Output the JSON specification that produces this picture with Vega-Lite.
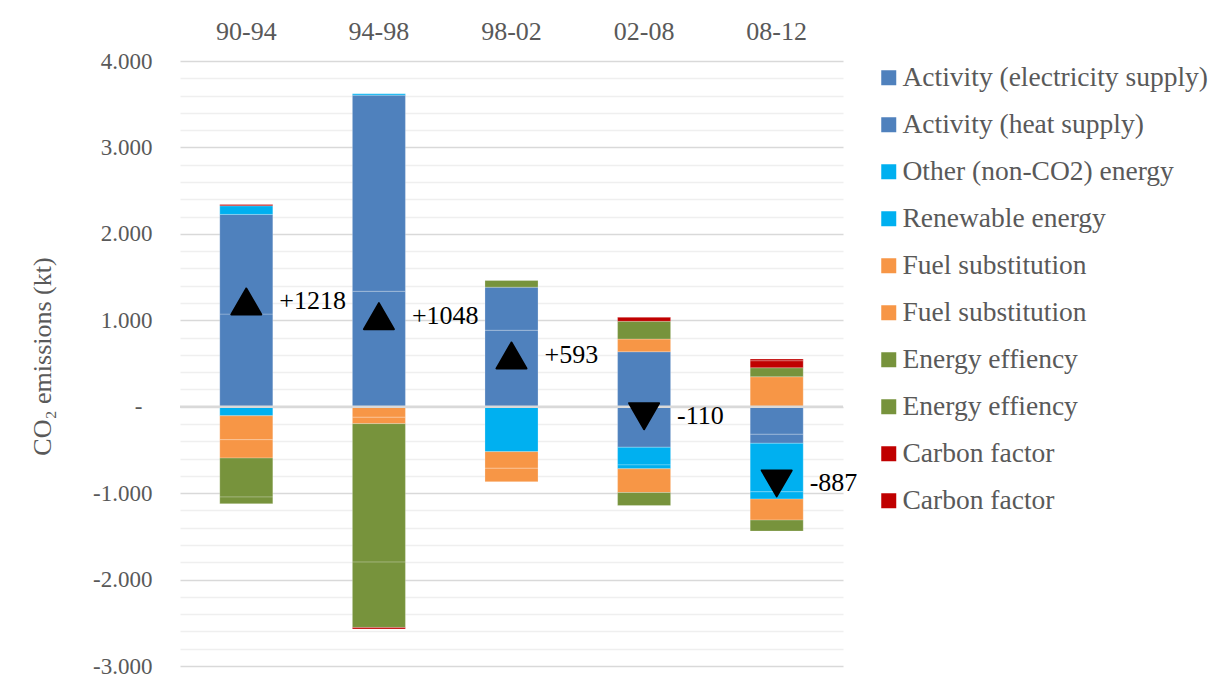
{
  "$schema": "https://vega.github.io/schema/vega-lite/v6.json",
  "width": 663,
  "height": 605,
  "autosize": {"type": "none"},
  "padding": {"left": 180, "top": 61, "right": 374, "bottom": 17},
  "background": "#ffffff",
  "config": {"view": {"stroke": null}, "font": "Liberation Serif"},
  "datasets": {
    "parts": [
      {"period": "90-94", "series": "elec", "k": 0, "value": 1072},
      {"period": "90-94", "series": "heat", "k": 1, "value": 1153},
      {"period": "90-94", "series": "other", "k": 2, "value": -105},
      {"period": "90-94", "series": "renew", "k": 3, "value": 100},
      {"period": "90-94", "series": "fuel", "k": 4, "value": -277},
      {"period": "90-94", "series": "fuel_d", "k": 5, "value": -212},
      {"period": "90-94", "series": "eff", "k": 6, "value": -451},
      {"period": "90-94", "series": "eff_d", "k": 7, "value": -77},
      {"period": "90-94", "series": "carbon", "k": 8, "value": 15},

      {"period": "94-98", "series": "elec", "k": 0, "value": 1336},
      {"period": "94-98", "series": "heat", "k": 1, "value": 2269},
      {"period": "94-98", "series": "renew", "k": 3, "value": 15},
      {"period": "94-98", "series": "fuel", "k": 4, "value": -122},
      {"period": "94-98", "series": "fuel_d", "k": 5, "value": -74},
      {"period": "94-98", "series": "eff", "k": 6, "value": -1602},
      {"period": "94-98", "series": "eff_d", "k": 7, "value": -756},
      {"period": "94-98", "series": "carbon", "k": 8, "value": -18},

      {"period": "98-02", "series": "elec", "k": 0, "value": 885},
      {"period": "98-02", "series": "heat", "k": 1, "value": 498},
      {"period": "98-02", "series": "other", "k": 2, "value": -520},
      {"period": "98-02", "series": "fuel", "k": 4, "value": -192},
      {"period": "98-02", "series": "fuel_d", "k": 5, "value": -155},
      {"period": "98-02", "series": "eff_d", "k": 7, "value": 77},

      {"period": "02-08", "series": "elec", "k": 0, "value": 636},
      {"period": "02-08", "series": "heat", "k": 1, "value": -469},
      {"period": "02-08", "series": "other", "k": 2, "value": -204},
      {"period": "02-08", "series": "renew", "k": 3, "value": -46},
      {"period": "02-08", "series": "fuel", "k": 4, "value": -274},
      {"period": "02-08", "series": "fuel_d", "k": 5, "value": 147},
      {"period": "02-08", "series": "eff", "k": 6, "value": -151},
      {"period": "02-08", "series": "eff_d", "k": 7, "value": 205},
      {"period": "02-08", "series": "carbon", "k": 8, "value": 46},

      {"period": "08-12", "series": "elec", "k": 0, "value": -319},
      {"period": "08-12", "series": "heat", "k": 1, "value": -104},
      {"period": "08-12", "series": "other", "k": 2, "value": -562},
      {"period": "08-12", "series": "renew", "k": 3, "value": -84},
      {"period": "08-12", "series": "fuel", "k": 4, "value": 347},
      {"period": "08-12", "series": "fuel_d", "k": 5, "value": -243},
      {"period": "08-12", "series": "eff", "k": 6, "value": 104},
      {"period": "08-12", "series": "eff_d", "k": 7, "value": -127},
      {"period": "08-12", "series": "carbon", "k": 8, "value": 81},
      {"period": "08-12", "series": "carbon_d", "k": 9, "value": 20}
    ],
    "net": [
      {"period": "90-94", "net": 1218, "label": "+1218", "dir": "up"},
      {"period": "94-98", "net": 1048, "label": "+1048", "dir": "up"},
      {"period": "98-02", "net": 593, "label": "+593", "dir": "up"},
      {"period": "02-08", "net": -110, "label": "-110", "dir": "down"},
      {"period": "08-12", "net": -887, "label": "-887", "dir": "down"}
    ]
  },
  "layer": [
    {
      "data": {"name": "parts"},
      "mark": {"type": "bar", "stroke": "#ffffff", "strokeOpacity": 0.3, "strokeWidth": 0.8},
      "encoding": {
        "x": {
          "field": "period",
          "type": "nominal",
          "sort": ["90-94", "94-98", "98-02", "02-08", "08-12"],
          "scale": {"paddingInner": 0.6, "paddingOuter": 0.3},
          "axis": {
            "orient": "top",
            "title": null,
            "domain": false,
            "ticks": false,
            "tickSize": 0,
            "labelPadding": 21.7,
            "labelBaseline": "alphabetic",
            "labelAngle": 0,
            "labelFontSize": 26,
            "labelColor": "#595959",
            "labelFont": "Liberation Serif"
          }
        },
        "y": {
          "field": "value",
          "type": "quantitative",
          "stack": "zero",
          "scale": {"domain": [-3000, 4000], "nice": false},
          "axis": {
            "title": "CO₂ emissions (kt)",
            "values": [-3000, -2800, -2600, -2400, -2200, -2000, -1800, -1600, -1400, -1200, -1000, -800, -600, -400, -200, 0, 200, 400, 600, 800, 1000, 1200, 1400, 1600, 1800, 2000, 2200, 2400, 2600, 2800, 3000, 3200, 3400, 3600, 3800, 4000],
            "tickCount": 100,
            "grid": true,
            "gridColor": {"condition": {"test": "datum.value % 1000 === 0", "value": "#D9D9D9"}, "value": "#EFEFEF"},
            "gridWidth": 1.5,
            "domain": false,
            "ticks": false,
            "tickSize": 0,
            "labelPadding": {"condition": {"test": "datum.value === 0", "value": 38}, "value": 28},
            "labelOverlap": false,
            "labelFontSize": 23,
            "labelColor": "#595959",
            "labelFont": "Liberation Serif",
            "labelExpr": "datum.value % 1000 !== 0 ? '' : datum.value === 0 ? '-' : replace(replace(format(datum.value, ',.0f'), ',', '.'), '\u2212', '-')",
            "titleFontSize": 26,
            "titleFontWeight": "normal",
            "titleColor": "#595959",
            "titleFont": "Liberation Serif",
            "titleAngle": 270,
            "titleAlign": "center",
            "titleBaseline": "middle",
            "titleX": -138,
            "titleY": 295
          }
        },
        "color": {
          "field": "series",
          "type": "nominal",
          "scale": {
            "domain": ["elec", "heat", "other", "renew", "fuel", "fuel_d", "eff", "eff_d", "carbon", "carbon_d"],
            "range": ["#4F81BD", "#4F81BD", "#00B0F0", "#00B0F0", "#F79646", "#F79646", "#77933C", "#77933C", "#C00000", "#C00000"]
          },
          "legend": {
            "orient": "none",
            "legendX": 695,
            "legendY": 3,
            "title": null,
            "padding": 0,
            "symbolType": "square",
            "symbolSize": 225,
            "symbolStrokeWidth": 0,
            "labelFontSize": 27.5,
            "labelColor": "#595959",
            "labelFont": "Liberation Serif",
            "labelOffset": 0,
            "labelLimit": 400,
            "rowPadding": 18,
            "labelExpr": "{'elec': 'Activity (electricity supply)', 'heat': 'Activity (heat supply)', 'other': 'Other (non-CO2) energy', 'renew': 'Renewable energy', 'fuel': 'Fuel substitution', 'fuel_d': 'Fuel substitution', 'eff': 'Energy effiency', 'eff_d': 'Energy effiency', 'carbon': 'Carbon factor', 'carbon_d': 'Carbon factor'}[datum.label]"
          }
        },
        "order": {"field": "k", "type": "quantitative"}
      }
    },
    {
      "data": {"values": [{}]},
      "mark": {"type": "rule", "color": "#D9D9D9", "strokeWidth": 2.5},
      "encoding": {"y": {"datum": 0}}
    },
    {
      "data": {"name": "net"},
      "mark": {"type": "point", "filled": true, "color": "#000000", "stroke": "#000000", "strokeWidth": 2, "strokeJoin": "round", "size": 900, "opacity": 1},
      "encoding": {
        "x": {"field": "period", "type": "nominal", "sort": ["90-94", "94-98", "98-02", "02-08", "08-12"]},
        "y": {"field": "net", "type": "quantitative"},
        "shape": {"field": "dir", "type": "nominal", "scale": {"domain": ["up", "down"], "range": ["triangle-up", "triangle-down"]}, "legend": null}
      }
    },
    {
      "data": {"name": "net"},
      "mark": {"type": "text", "align": "left", "baseline": "middle", "dx": 33, "fontSize": 26, "font": "Liberation Serif", "color": "#000000"},
      "encoding": {
        "x": {"field": "period", "type": "nominal", "sort": ["90-94", "94-98", "98-02", "02-08", "08-12"]},
        "y": {"field": "net", "type": "quantitative"},
        "text": {"field": "label"}
      }
    }
  ]
}
